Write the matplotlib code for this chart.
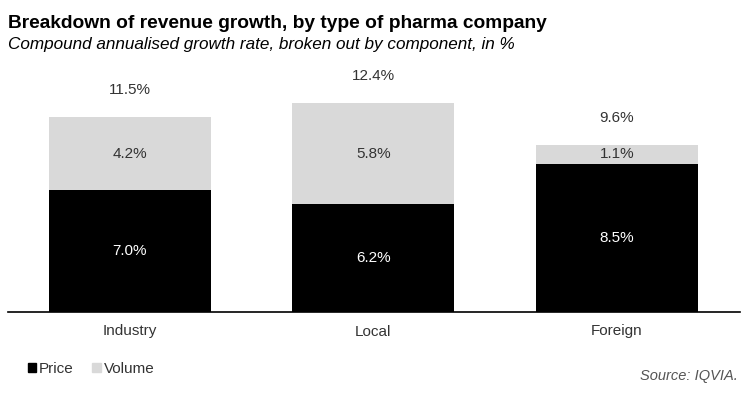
import numpy as np
import matplotlib.pyplot as plt
from matplotlib.patches import Patch

plt.rcParams['font.family'] = ['Liberation Sans', 'DejaVu Sans']

# data
categories = ['Industry', 'Local', 'Foreign']
price = [7.0, 6.2, 8.5]
volume = [4.2, 5.8, 1.1]
totals = [11.5, 12.4, 9.6]

price_color = '#000000'
volume_color = '#d9d9d9'

fig = plt.figure(figsize=(7.47, 3.94), dpi=100)
ax = fig.add_axes([8/747, 82/394, 732/747, 252/394])

x = np.arange(len(categories))
w = 0.665
ax.bar(x, price, w, color=price_color, label='Price')
ax.bar(x, volume, w, bottom=price, color=volume_color, label='Volume')

for i in range(len(categories)):
    ax.text(x[i], price[i] / 2, f'{price[i]:.1f}%', ha='center', va='center',
            color='white', fontsize=11)
    ax.text(x[i], price[i] + volume[i] / 2, f'{volume[i]:.1f}%', ha='center',
            va='center', color='#333333', fontsize=11)
    ax.text(x[i], price[i] + volume[i] + 1.55, f'{totals[i]:.1f}%', ha='center',
            va='center', color='#333333', fontsize=11)

ax.set_xlim(-0.5, 2.505)
ax.set_ylim(0, 14.48)
ax.set_xticks(x)
ax.set_xticklabels(categories, fontsize=11, color='#333333')
ax.tick_params(axis='x', length=0, pad=9)
ax.set_yticks([])
for s in ['top', 'right', 'left']:
    ax.spines[s].set_visible(False)
ax.spines['bottom'].set_linewidth(1.2)

fig.text(8/747, 1 - 24/394, 'Breakdown of revenue growth, by type of pharma company',
         fontsize=13.8, fontweight='bold', va='center', ha='left')
fig.text(8/747, 1 - 45/394, 'Compound annualised growth rate, broken out by component, in %',
         fontsize=12.3, style='italic', va='center', ha='left')

handles = [Patch(color=price_color), Patch(color=volume_color)]
fig.legend(handles, ['Price', 'Volume'], loc='center left',
           bbox_to_anchor=(14/747, 1 - 369/394), ncol=2, frameon=False,
           fontsize=11, handlelength=0.55, handleheight=0.55, handletextpad=0.2,
           columnspacing=1.2, labelcolor='#333333')
fig.text(738/747, 1 - 376/394, 'Source: IQVIA.', fontsize=10.5, style='italic',
         color='#555555', ha='right', va='center')

fig.savefig('out.png', dpi=100)
